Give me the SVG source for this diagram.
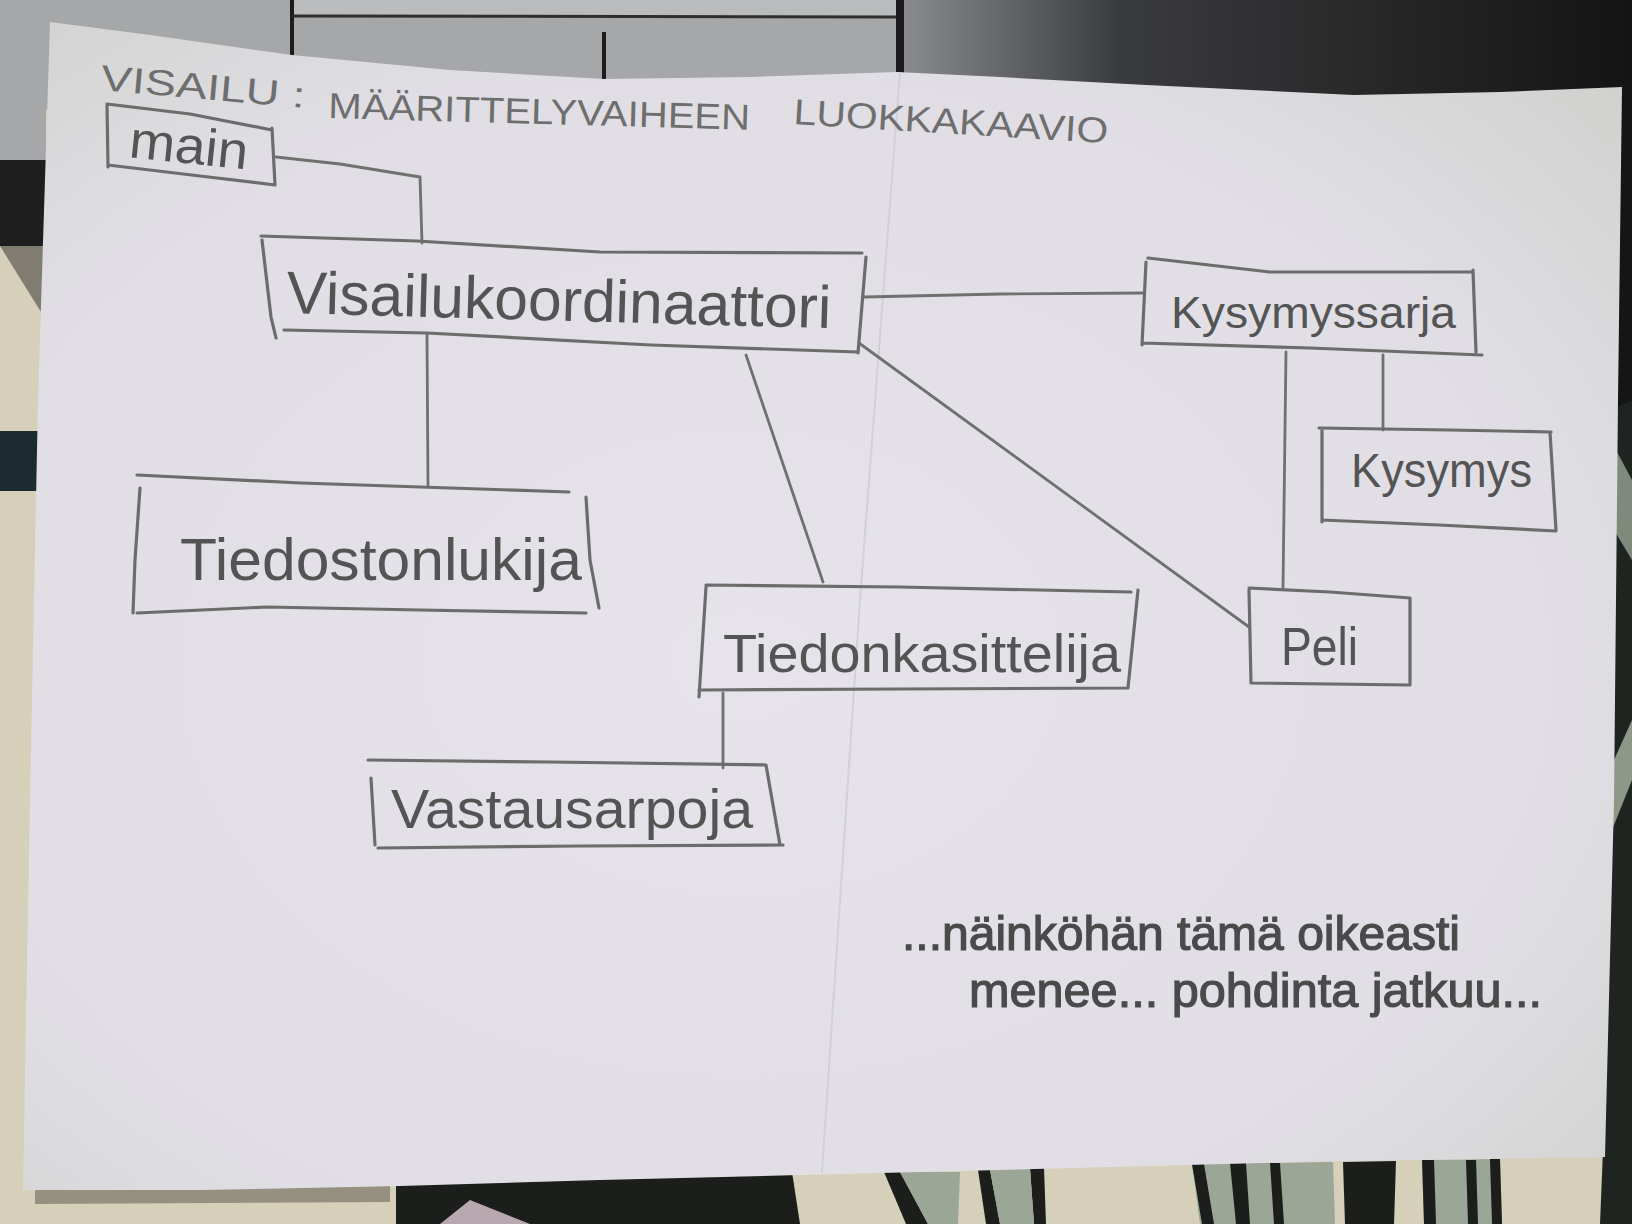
<svg xmlns="http://www.w3.org/2000/svg" width="1632" height="1224" viewBox="0 0 1632 1224">
<defs>
<linearGradient id="dark" x1="0" y1="0" x2="1" y2="0">
<stop offset="0" stop-color="#8a8c8f"/>
<stop offset="0.3" stop-color="#3a3b3d"/>
<stop offset="1" stop-color="#141414"/>
</linearGradient>
<radialGradient id="paper" cx="0.45" cy="0.55" r="0.75">
<stop offset="0" stop-color="#e6e4ea"/>
<stop offset="0.7" stop-color="#e0dee4"/>
<stop offset="1" stop-color="#cfd1cd"/>
</radialGradient>
<style>
.box{fill:none;stroke:#6c6c6c;stroke-width:3.2;stroke-linecap:round;stroke-linejoin:round}
.con{fill:none;stroke:#707070;stroke-width:2.8;stroke-linecap:round;stroke-linejoin:round}
.lbl{font-family:"Liberation Sans","DejaVu Sans",sans-serif;fill:#545454}
.ttl{font-family:"Liberation Sans","DejaVu Sans",sans-serif;fill:#6e6e6e;font-size:36px}
.note{font-family:"Liberation Sans","DejaVu Sans",sans-serif;fill:#4a4a4a;stroke:#4a4a4a;stroke-width:1.2;font-size:48px}
</style>
</defs>
<g id="background">
<rect x="0" y="0" width="1632" height="1224" fill="#d6cfb9"/>
<rect x="0" y="0" width="900" height="110" fill="#a5a7a9"/>
<rect x="292" y="0" width="605" height="16" fill="#b9bbbc"/>
<rect x="0" y="0" width="46" height="160" fill="#a5a7a9"/>
<rect x="0" y="160" width="46" height="86" fill="#1e1e1e"/>
<path d="M0,246 L46,246 L46,320 Z" fill="#2a2a2a" opacity="0.5"/>
<rect x="0" y="431" width="40" height="60" fill="#1d2a30"/>
<rect x="900" y="0" width="732" height="110" fill="url(#dark)"/>
<rect x="1605" y="80" width="27" height="330" fill="#151515"/>
<path d="M1612,410 L1632,400 L1632,1224 L1600,1224 L1605,1100 Z" fill="#1f2420"/>
<path d="M1616,450 L1632,480 L1632,560 L1614,530 Z" fill="#7f8a7c"/>
<path d="M1614,760 L1632,720 L1632,780 L1612,830 Z" fill="#8e9889"/>
<line x1="292" y1="0" x2="292" y2="56" stroke="#1c1c1c" stroke-width="4"/>
<line x1="292" y1="16" x2="897" y2="17" stroke="#2e2e2e" stroke-width="3"/>
<line x1="604" y1="32" x2="604" y2="80" stroke="#1c1c1c" stroke-width="4"/>
<rect x="896" y="0" width="8" height="74" fill="#1a1a1a"/>
<path d="M35,1188 L390,1186 L390,1202 L35,1204 Z" fill="#6b665a" opacity="0.6"/>
<path d="M396,1182 L792,1172 L800,1224 L396,1224 Z" fill="#1b1e1b"/>
<path d="M440,1224 L470,1200 L530,1224 Z" fill="#b8a8b0"/>
<path d="M884,1172 L900,1172 L928,1224 L906,1224 Z" fill="#1b1e1b"/>
<path d="M900,1172 L960,1172 L958,1224 L928,1224 Z" fill="#9ba697"/>
<path d="M978,1170 L990,1170 L1000,1224 L986,1224 Z" fill="#1b1e1b"/>
<path d="M1030,1168 L1044,1168 L1046,1224 L1034,1224 Z" fill="#1b1e1b"/>
<path d="M990,1170 L1030,1168 L1034,1224 L1000,1224 Z" fill="#9ba697"/>
<path d="M1192,1164 L1333,1162 L1335,1224 L1200,1224 Z" fill="#9ba697"/>
<path d="M1192,1164 L1204,1164 L1214,1224 L1202,1224 Z" fill="#1b1e1b"/>
<path d="M1230,1163 L1246,1163 L1250,1224 L1236,1224 Z" fill="#1b1e1b"/>
<path d="M1270,1163 L1280,1163 L1284,1224 L1274,1224 Z" fill="#1b1e1b"/>
<path d="M1343,1162 L1396,1161 L1394,1224 L1345,1224 Z" fill="#1b1e1b"/>
<path d="M1422,1160 L1500,1159 L1502,1224 L1424,1224 Z" fill="#9ba697"/>
<path d="M1422,1160 L1434,1160 L1436,1224 L1424,1224 Z" fill="#1b1e1b"/>
<path d="M1466,1160 L1476,1160 L1478,1224 L1468,1224 Z" fill="#1b1e1b"/>
<path d="M1490,1159 L1500,1159 L1502,1224 L1492,1224 Z" fill="#1b1e1b"/>
</g>
<g id="paper">
<path d="M50,22 L150,35 L292,55 L450,70 L604,79 L750,77 L897,72 L1000,77 L1146,85 L1354,95 L1500,92 L1622,87 L1618,400 L1614,800 L1605,1157 L1300,1162 L1000,1170 L800,1175 L600,1180 L400,1186 L200,1190 L23,1190 L30,800 L38,400 Z" fill="url(#paper)"/>
<path d="M900,72 L860,600 L822,1172" fill="none" stroke="#d2d0d6" stroke-width="2"/>
</g>
<g id="title">
<text class="ttl" x="100" y="90" textLength="205" lengthAdjust="spacingAndGlyphs" transform="rotate(5 100 90)">VISAILU :</text>
<text class="ttl" x="328" y="118" textLength="422" lengthAdjust="spacingAndGlyphs" transform="rotate(1.6 328 118)">MÄÄRITTELYVAIHEEN</text>
<text class="ttl" x="793" y="124" textLength="315" lengthAdjust="spacingAndGlyphs" transform="rotate(3.5 793 124)">LUOKKAKAAVIO</text>
</g>
<g id="connectors">
<path class="con" d="M276,157 L340,164 L420,177 L422,243"/>
<path class="con" d="M864,297 L1000,294 L1144,293"/>
<path class="con" d="M427,335 L428,486"/>
<path class="con" d="M746,355 L823,582"/>
<path class="con" d="M859,343 L1249,627"/>
<path class="con" d="M1286,352 L1283,588"/>
<path class="con" d="M1383,355 L1383,430"/>
<path class="con" d="M723,693 L723,768"/>
</g>
<g id="node-main">
<path class="box" d="M107,104 L190,114 L272,130 M272,128 L275,185 M108,165 L200,176 L275,185 M107,104 L108,167"/>
<text class="lbl" x="128" y="157" font-size="52" textLength="119" lengthAdjust="spacingAndGlyphs" transform="rotate(6 128 157)">main</text>
</g>
<g id="node-visailukoordinaattori">
<path class="box" d="M261,236 L417,241 L600,252 L862,253 M866,257 L858,353 M284,330 L427,333 L651,345 L858,352 M262,240 L271,317 L276,338"/>
<text class="lbl" x="286" y="313" font-size="60" textLength="545" lengthAdjust="spacingAndGlyphs" transform="rotate(1.6 286 313)">Visailukoordinaattori</text>
</g>
<g id="node-kysymyssarja">
<path class="box" d="M1148,258 L1270,272 L1473,272 M1473,270 L1476,352 M1142,343 L1310,348 L1482,355 M1146,262 L1142,345"/>
<text class="lbl" x="1171" y="328" font-size="44" textLength="285" lengthAdjust="spacingAndGlyphs">Kysymyssarja</text>
</g>
<g id="node-kysymys">
<path class="box" d="M1319,428 L1450,430 L1551,432 M1550,432 L1556,530 M1322,520 L1439,525 L1556,531 M1322,430 L1322,522"/>
<text class="lbl" x="1351" y="487" font-size="48" textLength="181" lengthAdjust="spacingAndGlyphs">Kysymys</text>
</g>
<g id="node-peli">
<path class="box" d="M1249,588 L1330,592 L1410,598 M1410,598 L1410,685 M1251,683 L1410,685 M1249,590 L1251,683"/>
<text class="lbl" x="1281" y="665" font-size="54" textLength="77" lengthAdjust="spacingAndGlyphs">Peli</text>
</g>
<g id="node-tiedostonlukija">
<path class="box" d="M137,475 L301,483 L569,492 M586,497 L590,560 L599,608 M137,613 L267,607 L420,610 L586,613 M140,488 L135,560 L133,613"/>
<text class="lbl" x="180" y="580" font-size="60" textLength="402" lengthAdjust="spacingAndGlyphs">Tiedostonlukija</text>
</g>
<g id="node-tiedonkasittelija">
<path class="box" d="M706,585 L900,587 L1131,592 M1138,590 L1128,688 M699,690 L900,689 L1128,688 M706,587 L699,697"/>
<text class="lbl" x="723" y="672" font-size="54" textLength="398" lengthAdjust="spacingAndGlyphs">Tiedonkasittelija</text>
</g>
<g id="node-vastausarpoja">
<path class="box" d="M368,760 L550,762 L766,765 M766,765 L780,845 M378,848 L580,846 L783,845 M371,778 L375,845"/>
<text class="lbl" x="391" y="828" font-size="56" textLength="362" lengthAdjust="spacingAndGlyphs">Vastausarpoja</text>
</g>
<g id="note">
<text class="note" x="902" y="950" textLength="558" lengthAdjust="spacingAndGlyphs">...näinköhän tämä oikeasti</text>
<text class="note" x="969" y="1007" textLength="573" lengthAdjust="spacingAndGlyphs">menee... pohdinta jatkuu...</text>
</g>
</svg>
